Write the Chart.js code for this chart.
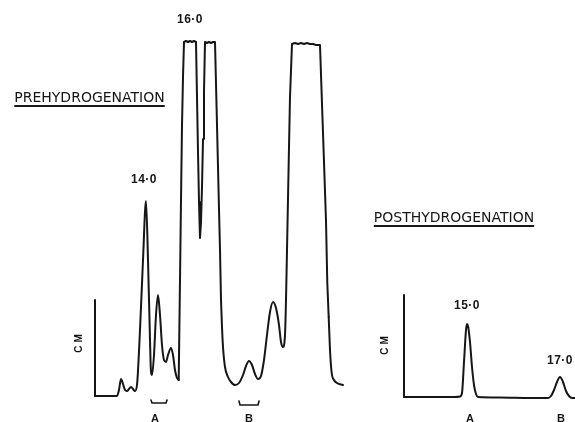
<!DOCTYPE html>
<html>
<head>
<meta charset="utf-8">
<script src="https://cdn.jsdelivr.net/npm/chart.js@4/dist/chart.umd.min.js"></script>
<style>
  body { margin: 0; background: #fff; }
  #wrap { position: relative; width: 575px; height: 422px; overflow: hidden; }
  #chart { position: absolute; left: 0; top: 0; }
  .note { position: absolute; transform: translate(-50%, -50%); white-space: nowrap; color: #161616;
          font-family: "Liberation Sans", sans-serif; font-weight: bold; line-height: 1; }
  .title { font-family: "DejaVu Sans", sans-serif; font-weight: normal; font-size: 14px;
           text-decoration: underline; text-underline-offset: 3px; text-decoration-thickness: 1.5px; }
  .peak { font-size: 12px; letter-spacing: 0.5px; }
  .frac { font-size: 11px; }
  .unit { font-size: 10px; letter-spacing: 3px; transform: translate(-50%, -50%) rotate(-90deg); }
</style>
</head>
<body>
<div id="wrap"><canvas id="chart" width="575" height="422"></canvas></div>
<script>
// prehydrogenation trace (chart distance, pen deflection)
var preTime = [95, 117, 119, 121, 123, 125, 127, 129, 131, 133, 135, 137, 140, 143, 146, 148, 150, 151, 152,
    154, 156, 158, 160, 162, 164, 166, 168, 171, 173, 175, 177, 178.7, 180, 181, 182, 183, 184,
    186, 188, 190, 192, 194, 196, 197, 198, 199, 199.7, 200, 201, 202, 203, 204, 205,
    207, 209, 211, 213, 215, 217, 219, 220, 221, 222, 223, 225, 228, 231, 235, 239, 243, 246, 249,
    252, 255, 258, 261, 264, 267, 270, 273, 276, 279, 281, 283, 285, 286, 287, 289, 290, 292,
    295, 298, 301, 304, 307, 310, 313, 316, 320, 322, 324, 326, 327.3, 328.7, 330, 331.7, 334, 337, 343];
var preSignal = [1, 1, 7, 18, 13, 7, 6, 8, 10, 8, 6, 12, 67, 137, 196, 137, 57, 25, 22,
    42, 82, 102, 82, 52, 37, 35, 42, 49, 42, 27, 19, 17, 117, 197, 272, 320, 355,
    356, 355, 356, 355, 356, 355, 300, 245, 195, 170, 159, 175, 210, 258, 306, 355,
    354, 355, 354, 355, 355, 272, 188, 147, 97, 70, 50, 30, 20, 15, 12, 14, 22, 31, 36,
    32, 23, 18, 21, 37, 62, 85, 95, 89, 72, 55, 50, 62, 97, 147, 250, 300, 353,
    354, 353, 354, 353, 354, 353, 353, 352, 352, 293, 235, 176, 114, 80, 47, 24, 17, 14, 12];
// stretches of the pre trace drawn with straight pen strokes (off-scale plateaus)
var straightFrom = [178.7, 287];
var straightTo = [221, 328.7];

// posthydrogenation trace
var postTime = [404, 430, 455, 460, 462, 464, 466, 467, 468, 470, 472, 474, 476, 478, 500, 530, 548,
    551, 554, 557, 560, 563, 566, 569, 572, 575];
var postSignal = [0, 0, 0, 0.5, 4, 35, 67, 73, 71, 55, 30, 12, 3, 0, -0.5, -1, -1,
    1, 7, 15, 20, 15, 6, 1, -1, -1];

// pen-deflection scale bars
var axisTime = [95, 404];
var axisBottom = [1, 0];
var axisTop = [97, 102];

// fraction brackets A and B under the first trace
var bracketStart = [151, 239];
var bracketEnd = [167, 259];
var bracketTop = [-3, -4];
var bracketBottom = [-6, -8];

// labels
var peakLabels = ['14·0', '16·0', '15·0', '17·0'];
var peakX = [144, 190, 467, 560];
var peakY = [218, 378, 92, 37];
var fracLabels = ['A', 'B', 'A', 'B'];
var fracX = [155, 249, 470, 561];
var fracY = [-21, -21, -21, -21];
var titles = ['PREHYDROGENATION', 'POSTHYDROGENATION'];
var titleX = [89.5, 454];
var titleY = [300, 180];
var unitLabel = 'CM';
var unitX = [79, 385];
var unitY = [55, 53];

var ink = '#161616';

function points(xs, ys, lo, hi) {
    return xs.map((x, i) => ({ x: x, y: ys[i] })).filter((p) => p.x >= lo && p.x <= hi);
}

var datasets = [];
// split the pre trace into smooth and straight pieces
var cuts = [preTime[0]];
straightFrom.forEach((s, i) => { cuts.push(s, straightTo[i]); });
cuts.push(preTime[preTime.length - 1]);
for (let i = 0; i < cuts.length - 1; i++) {
    let straight = i % 2 === 1;
    datasets.push(straight
        ? { data: points(preTime, preSignal, cuts[i], cuts[i + 1]), tension: 0 }
        : { data: points(preTime, preSignal, cuts[i], cuts[i + 1]), cubicInterpolationMode: 'monotone' });
}
datasets.push({ data: points(postTime, postSignal, -Infinity, Infinity), cubicInterpolationMode: 'monotone' });
axisTime.forEach((x, i) => {
    datasets.push({ data: [{ x: x, y: axisBottom[i] }, { x: x, y: axisTop[i] }], tension: 0 });
});
bracketStart.forEach((x, i) => {
    datasets.push({ data: [
        { x: x, y: bracketTop[i] }, { x: x + 1, y: bracketBottom[i] },
        { x: bracketEnd[i] - 1, y: bracketBottom[i] }, { x: bracketEnd[i], y: bracketTop[i] }
    ], tension: 0, borderWidth: 1.6 });
});
datasets.forEach((d) => {
    d.borderColor = ink;
    d.borderWidth = d.borderWidth || 2;
    d.pointRadius = 0;
    d.fill = false;
    d.borderJoinStyle = 'round';
    d.borderCapStyle = 'round';
});

var notes = [];
peakLabels.forEach((t, i) => notes.push({ text: t, x: peakX[i], y: peakY[i], cls: 'peak' }));
fracLabels.forEach((t, i) => notes.push({ text: t, x: fracX[i], y: fracY[i], cls: 'frac' }));
titles.forEach((t, i) => notes.push({ text: t, x: titleX[i], y: titleY[i], cls: 'title' }));
unitX.forEach((x, i) => notes.push({ text: unitLabel, x: x, y: unitY[i], cls: 'unit' }));

var placeNotes = {
    id: 'placeNotes',
    afterDraw(chart) {
        var wrap = document.getElementById('wrap');
        wrap.querySelectorAll('.note').forEach((n) => n.remove());
        notes.forEach((n) => {
            var el = document.createElement('div');
            el.className = 'note ' + n.cls;
            el.textContent = n.text;
            el.style.left = chart.scales.x.getPixelForValue(n.x) + 'px';
            el.style.top = chart.scales.y.getPixelForValue(n.y) + 'px';
            wrap.appendChild(el);
        });
    }
};

var chart = new Chart(document.getElementById('chart'), {
    type: 'line',
    data: { datasets: datasets },
    options: {
        responsive: false,
        animation: false,
        layout: { padding: 0 },
        plugins: { legend: { display: false }, tooltip: { enabled: false } },
        scales: {
            x: { type: 'linear', min: 0, max: 575, display: false },
            y: { type: 'linear', min: -25, max: 397, display: false }
        }
    },
    plugins: [placeNotes]
});
</script>
</body>
</html>
